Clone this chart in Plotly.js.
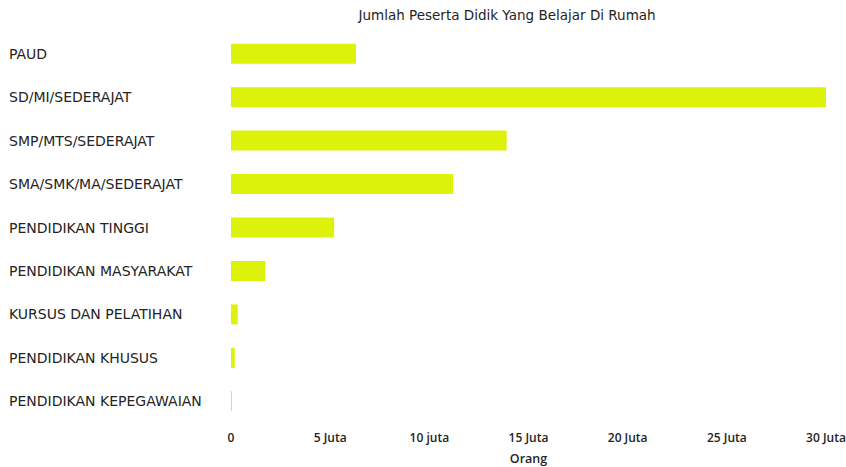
<!DOCTYPE html>
<html>
<head>
<meta charset="utf-8">
<script src="https://cdn.plot.ly/plotly-3.0.1.min.js"></script>
<style>html,body{margin:0;padding:0;background:#fff;}#chart{width:846px;height:467px;}</style>
</head>
<body>
<div id="chart"></div>
<script>
// Data (millions of learners)
const categories = [
  "PAUD",
  "SD/MI/SEDERAJAT",
  "SMP/MTS/SEDERAJAT",
  "SMA/SMK/MA/SEDERAJAT",
  "PENDIDIKAN TINGGI",
  "PENDIDIKAN MASYARAKAT",
  "KURSUS DAN PELATIHAN",
  "PENDIDIKAN KHUSUS",
  "PENDIDIKAN KEPEGAWAIAN"
];
const values = [6.30, 30.0, 13.9, 11.2, 5.2, 1.73, 0.34, 0.19, 0.05];
const tickValues = [0, 5, 10, 15, 20, 25, 30];
const tickLabels = ["0", "5 Juta", "10 juta", "15 Juta", "20 Juta", "25 Juta", "30 Juta"];

const textColor = "#252423";
const fontFam = "'DejaVu Sans', sans-serif";
const tickFam = "'Open Sans', 'Noto Sans', sans-serif";

const trace = {
  type: "bar",
  orientation: "h",
  y: categories,
  x: values,
  marker: {color: "#DDF20B"},
  hoverinfo: "none"
};

const annotations = categories.map(c => ({
  xref: "paper", yref: "y",
  x: -0.376, y: c,
  xanchor: "left", yanchor: "middle",
  text: c, showarrow: false,
  font: {family: fontFam, size: 14, color: textColor}
}));

const layout = {
  width: 846, height: 467,
  margin: {l: 231, r: 20, t: 32, b: 44},
  paper_bgcolor: "#fff", plot_bgcolor: "#fff",
  showlegend: false,
  bargap: 0.54,
  title: {
    text: "Jumlah Peserta Didik Yang Belajar Di Rumah",
    font: {family: fontFam, size: 13.5, color: textColor},
    x: 0.464, xanchor: "center", xref: "paper",
    y: 1, yref: "container", yanchor: "top", pad: {t: 11}
  },
  xaxis: {
    range: [0, 30],
    tickvals: tickValues, ticktext: tickLabels,
    showgrid: false, zeroline: false, showline: false,
    ticks: "",
    ticklabelstandoff: 6,
    ticklabeloverflow: "allow",
    automargin: false,
    tickfont: {family: tickFam, size: 12, weight: 600, color: textColor},
    title: {text: "Orang", font: {family: tickFam, size: 12.5, weight: 600, color: textColor}, standoff: 12}
  },
  yaxis: {
    autorange: "reversed",
    showticklabels: false,
    showgrid: false, zeroline: false, showline: false,
    ticks: ""
  },
  annotations: annotations
};

Plotly.newPlot("chart", [trace], layout, {displayModeBar: false, staticPlot: true});
</script>
</body>
</html>
